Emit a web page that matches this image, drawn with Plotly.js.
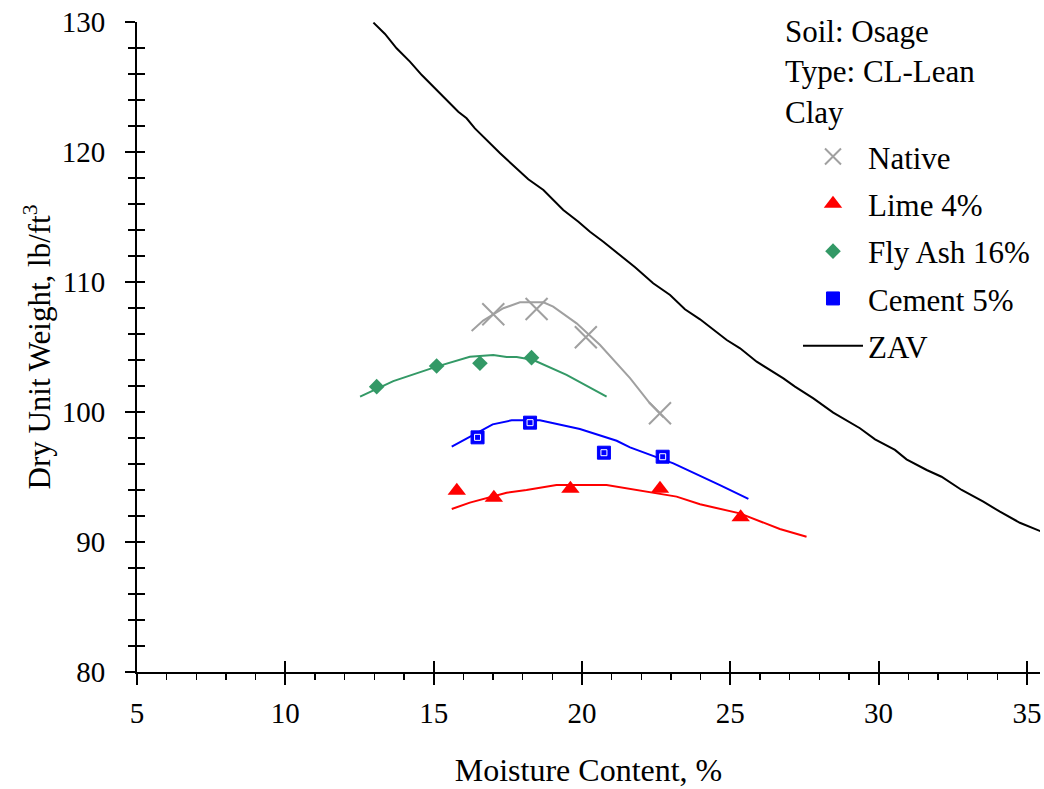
<!DOCTYPE html>
<html>
<head>
<meta charset="utf-8">
<script src="https://cdn.plot.ly/plotly-3.0.1.min.js"></script>
<style>html,body{margin:0;padding:0;background:#fff;}#chart{width:1044px;height:789px;}</style>
</head>
<body>
<div id="chart"></div>
<script>
// Native soil
var nativeW = [17.01, 18.47, 20.13, 22.63];
var nativeD = [107.52, 107.92, 105.75, 99.9];
var nativeCurveW = [16.28, 16.67, 17.35, 17.91, 18.70, 19.03, 19.82, 20.61, 21.62, 22.29, 22.75];
var nativeCurveD = [106.23, 107.03, 107.98, 108.44, 108.44, 108.1, 106.82, 105.15, 102.6, 100.67, 99.6];
// Lime 4%
var limeW = [15.78, 17.03, 19.61, 22.63, 25.35];
var limeD = [93.95, 93.4, 94.1, 94.1, 91.9];
var limeCurveW = [15.61, 16.22, 17.46, 18.13, 19.14, 20.83, 23.19, 23.98, 25.32, 26.67, 27.57];
var limeCurveD = [92.54, 93.03, 93.79, 94.0, 94.38, 94.38, 93.49, 92.9, 92.2, 91.0, 90.41];
// Fly Ash 16%
var flyW = [13.08, 15.10, 16.56, 18.30];
var flyD = [101.95, 103.54, 103.75, 104.18];
var flyCurveW = [12.52, 13.64, 15.10, 16.22, 17.01, 17.46, 17.80, 18.36, 19.48, 20.83];
var flyCurveD = [101.18, 102.38, 103.49, 104.25, 104.38, 104.23, 104.23, 104.0, 102.85, 101.18];
// Cement 5%
var cemW = [16.48, 18.25, 20.74, 22.72];
var cemD = [98.05, 99.18, 96.87, 96.56];
var cemCurveW = [15.61, 16.99, 17.63, 18.58, 19.93, 21.17, 21.62, 23.08, 24.65, 25.61];
var cemCurveD = [97.33, 99.05, 99.36, 99.36, 98.69, 97.79, 97.28, 96.05, 94.38, 93.31];
// Zero air voids line
var zavW = [12.97, 13.36, 13.75, 14.20, 14.60, 15.32, 15.83, 16.11, 16.39, 17.24, 17.68, 18.19, 18.70, 19.37, 19.88, 20.27, 20.72, 21.28, 21.79, 22.40, 22.97, 23.47, 23.98, 24.88, 25.33, 25.89, 26.79, 27.18, 27.80, 28.47, 29.37, 29.88, 30.55, 30.94, 31.62, 32.12, 32.80, 33.53, 34.09, 34.76, 35.38, 35.6];
var zavD = [129.95, 129.08, 127.98, 126.95, 125.92, 124.25, 123.10, 122.59, 121.82, 119.90, 119.0, 117.90, 117.08, 115.54, 114.64, 113.87, 113.10, 112.08, 111.13, 109.90, 109.0, 107.90, 107.13, 105.54, 104.90, 103.87, 102.59, 101.95, 101.05, 99.95, 98.75, 97.90, 97.08, 96.36, 95.54, 95.02, 94.0, 93.10, 92.33, 91.48, 90.87, 90.7];

var legendTitle = ["Soil: Osage", "Type: CL-Lean", "Clay"];
var xTitle = "Moisture Content, %";
var yTitle = "Dry Unit Weight, lb/ft<sup>3</sup>";

var FONT = '"Liberation Serif", "Times New Roman", serif';
var GRAY = '#A0A0A0', RED = '#FF0000', GREEN = '#339966', BLUE = '#0000FF';

var traces = [
  {x: nativeCurveW, y: nativeCurveD, mode: 'lines', line: {color: GRAY, width: 2}, showlegend: false, hoverinfo: 'skip'},
  {x: flyCurveW, y: flyCurveD, mode: 'lines', line: {color: GREEN, width: 2}, showlegend: false, hoverinfo: 'skip'},
  {x: cemCurveW, y: cemCurveD, mode: 'lines', line: {color: BLUE, width: 2}, showlegend: false, hoverinfo: 'skip'},
  {x: limeCurveW, y: limeCurveD, mode: 'lines', line: {color: RED, width: 2}, showlegend: false, hoverinfo: 'skip'},
  {x: zavW, y: zavD, mode: 'lines', name: 'ZAV', legendgroup: 'g5', legendrank: 5, line: {color: '#000000', width: 2}},
  {x: nativeW, y: nativeD, mode: 'markers', name: 'Native', legendgroup: 'g1', legendrank: 1,
   marker: {symbol: 'x-thin-open', size: 22, color: GRAY, line: {color: GRAY, width: 2}}},
  {x: limeW, y: limeD, mode: 'markers', name: 'Lime 4%', legendgroup: 'g2', legendrank: 2,
   marker: {symbol: 'triangle-up', size: 16, color: RED, line: {width: 0}}},
  {x: flyW, y: flyD, mode: 'markers', name: 'Fly Ash 16%', legendgroup: 'g3', legendrank: 3,
   marker: {symbol: 'diamond', size: 12, color: GREEN, line: {width: 0}}},
  {x: cemW, y: cemD, mode: 'markers', name: 'Cement 5%', legendgroup: 'g4', legendrank: 4,
   marker: {symbol: 'square', size: 13, color: BLUE, line: {color: BLUE, width: 1}}},
  {x: cemW, y: cemD, mode: 'markers', showlegend: false, hoverinfo: 'skip',
   marker: {symbol: 'square-open', size: 6, color: '#FFFFFF', line: {color: '#FFFFFF', width: 1}}},
  {x: [], y: [], xaxis: 'x2', yaxis: 'y2', showlegend: false, hoverinfo: 'skip'}
];

var xr = [5, 35.44], yr = [80, 130];
var layout = {
  width: 1044, height: 789,
  margin: {l: 137, r: 4, t: 22, b: 117},
  paper_bgcolor: '#FFFFFF', plot_bgcolor: '#FFFFFF',
  font: {family: FONT, size: 29, color: '#000000'},
  showlegend: true,
  legend: {x: 0.732, y: 0.834, xanchor: 'left', yanchor: 'top', bgcolor: 'rgba(0,0,0,0)', itemwidth: 60,
           font: {family: FONT, size: 31, color: '#000'}, tracegroupgap: 4, traceorder: 'grouped'},
  xaxis: {range: xr, tick0: 5, dtick: 5, ticks: 'outside', ticklen: 11, tickwidth: 2, tickcolor: '#000',
          showline: true, linewidth: 2, linecolor: '#000', showgrid: false, zeroline: false,
          ticklabelstandoff: 3, tickfont: {family: FONT, size: 29},
          minor: {dtick: 1, ticks: 'outside', ticklen: 6, tickwidth: 1.5, tickcolor: '#000', showgrid: false},
          title: {text: xTitle, font: {family: FONT, size: 32}, standoff: 31}},
  yaxis: {range: yr, tick0: 80, dtick: 10, ticks: 'outside', ticklen: 10, tickwidth: 2, tickcolor: '#000',
          showline: true, linewidth: 2, linecolor: '#000', showgrid: false, zeroline: false,
          ticklabelstandoff: 14, tickfont: {family: FONT, size: 29},
          minor: {dtick: 2, ticks: 'outside', ticklen: 7, tickwidth: 1.5, tickcolor: '#000', showgrid: false},
          title: {text: yTitle, font: {family: FONT, size: 31}, standoff: 2}},
  xaxis2: {range: xr, overlaying: 'x', anchor: 'y2', side: 'bottom', tick0: 5, dtick: 5, ticks: 'inside', ticklen: 11,
           tickwidth: 2, tickcolor: '#000', showticklabels: false, showgrid: false, zeroline: false, showline: false},
  yaxis2: {range: yr, overlaying: 'y', anchor: 'x2', side: 'left', tick0: 80, dtick: 10, ticks: 'inside', ticklen: 8,
           tickwidth: 2, tickcolor: '#000', showticklabels: false, showgrid: false, zeroline: false, showline: false,
           minor: {dtick: 2, ticks: 'inside', ticklen: 8, tickwidth: 1.5, tickcolor: '#000', showgrid: false}},
  annotations: [{text: legendTitle.join('<br>'), xref: 'paper', yref: 'paper', x: 0.7154, y: 1.015,
                 xanchor: 'left', yanchor: 'top', align: 'left', showarrow: false,
                 font: {family: FONT, size: 31, color: '#000'}}]
};

Plotly.newPlot('chart', traces, layout, {staticPlot: true, displayModeBar: false});
</script>
</body>
</html>
